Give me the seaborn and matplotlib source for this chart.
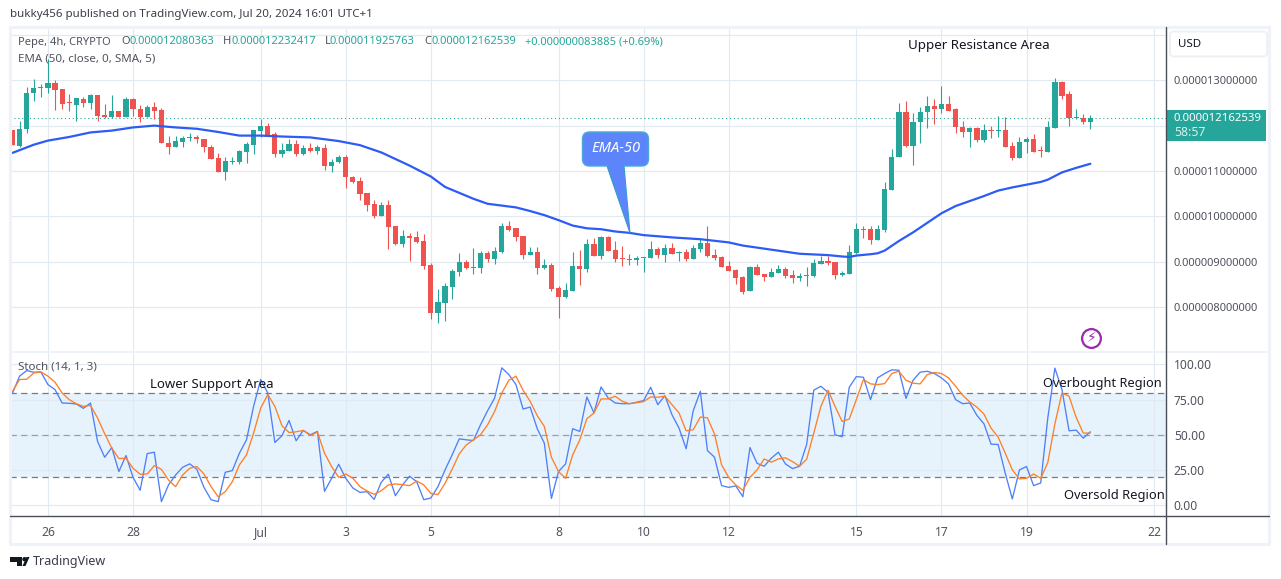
import numpy as np
import pandas as pd
import seaborn as sns
import matplotlib
matplotlib.use("Agg")
import matplotlib.pyplot as plt
from matplotlib.patches import Rectangle, FancyBboxPatch, Polygon, Circle
from matplotlib.ticker import FuncFormatter, FixedLocator

# Prices are in millionths of a USD
opens = [11.91,11.55,11.92,12.71,12.82,12.82,12.93,12.80,12.50,12.46,12.59,12.50,12.67,12.24,12.18,12.32,12.19,12.59,12.37,12.19,
 12.41,12.34,11.62,11.54,11.65,11.73,11.76,11.70,11.54,11.29,10.99,11.21,11.21,11.43,11.58,11.89,11.99,11.82,11.38,11.45,
 11.60,11.38,11.51,11.45,11.51,11.12,11.19,11.32,10.88,10.79,10.51,10.27,10.01,10.25,9.79,9.39,9.58,9.54,9.45,8.93,
 7.88,8.09,8.44,8.77,8.99,8.87,8.86,9.19,9.06,9.21,9.78,9.74,9.56,9.15,9.21,8.86,8.93,8.42,8.23,8.36,
 8.90,8.84,9.39,9.12,9.54,9.26,9.08,9.06,9.04,9.09,9.08,9.28,9.15,9.30,9.20,9.21,9.06,9.28,9.41,9.15,
 9.10,8.90,8.82,8.66,8.36,8.88,8.73,8.66,8.75,8.84,8.71,8.64,8.69,8.69,8.95,9.01,9.00,8.71,8.73,9.19,
 9.72,9.72,9.48,9.70,10.58,11.30,12.29,11.56,12.07,12.29,12.44,12.36,12.47,12.36,11.98,11.87,11.94,11.68,11.90,11.89,
 11.90,11.56,11.28,11.63,11.70,11.46,11.43,11.94,12.97,12.69,12.16,12.17,12.08]
highs = [11.91,12.11,12.85,13.03,12.91,13.46,13.00,12.80,12.70,12.61,12.62,12.70,12.67,12.48,12.67,12.33,12.62,12.60,12.45,12.45,
 12.52,12.38,11.78,11.78,11.78,11.84,11.79,11.70,11.57,11.40,11.31,11.32,11.47,11.63,11.91,12.15,12.05,11.85,11.62,11.70,
 11.69,11.57,11.62,11.57,11.60,11.27,11.36,11.35,10.90,10.86,10.51,10.36,10.31,10.36,9.79,9.71,9.63,9.67,9.61,8.98,
 8.40,8.53,8.85,9.19,9.04,9.30,9.23,9.24,9.32,9.85,9.91,9.74,9.56,9.32,9.32,9.06,8.97,8.47,8.53,9.21,
 9.26,9.50,9.52,9.58,9.56,9.45,9.34,9.17,9.13,9.10,9.45,9.32,9.39,9.41,9.23,9.28,9.37,9.50,9.78,9.28,
 9.12,9.01,8.84,8.69,8.90,8.95,8.73,8.86,8.93,8.88,8.82,8.75,8.88,9.06,9.14,9.14,9.00,8.80,9.37,9.85,
 9.79,9.79,9.81,10.75,11.48,12.49,12.55,12.27,12.40,12.66,12.58,12.88,12.66,12.38,12.11,11.98,11.98,12.03,12.00,12.22,
 12.20,11.63,11.76,11.74,11.81,11.56,12.11,13.04,12.99,12.77,12.36,12.25,12.23]
lows = [11.57,11.54,11.83,12.55,12.62,12.71,12.35,12.36,12.33,12.11,12.42,12.37,12.11,12.17,12.17,12.18,12.19,12.22,12.09,12.18,
 12.14,11.61,11.38,11.54,11.54,11.67,11.61,11.41,11.26,10.99,10.81,11.15,11.15,11.18,11.37,11.75,11.79,11.32,11.30,11.45,
 11.34,11.35,11.43,11.38,11.03,10.97,11.18,10.62,10.74,10.36,10.12,9.96,10.01,9.29,9.38,9.33,9.01,9.42,8.84,7.74,
 7.66,7.70,8.18,8.69,8.84,8.73,8.75,8.99,8.95,9.19,9.69,9.45,9.07,9.15,8.73,8.84,8.36,7.77,8.21,8.36,
 8.49,8.77,9.12,9.06,9.23,8.99,8.90,8.93,8.93,8.77,9.08,9.08,8.99,9.17,9.01,9.01,9.06,9.21,9.10,9.04,
 8.88,8.79,8.51,8.29,8.36,8.71,8.58,8.66,8.75,8.65,8.53,8.58,8.47,8.66,8.95,8.93,8.62,8.69,8.73,9.17,
 9.52,9.39,9.48,9.65,10.58,11.30,11.52,11.13,11.61,11.94,12.03,12.27,12.33,11.83,11.74,11.54,11.65,11.65,11.72,11.76,
 11.54,11.24,11.28,11.39,11.43,11.30,11.41,11.94,12.58,12.00,12.14,12.03,11.93]
closes = [11.57,11.93,12.72,12.83,12.83,12.93,12.79,12.48,12.49,12.60,12.50,12.67,12.22,12.18,12.33,12.19,12.59,12.36,12.19,12.42,
 12.33,11.61,11.54,11.67,11.73,11.74,11.70,11.52,11.27,10.99,11.22,11.22,11.45,11.60,11.91,11.99,11.80,11.38,11.47,11.60,
 11.38,11.51,11.45,11.52,11.12,11.21,11.31,10.86,10.77,10.49,10.25,10.01,10.25,9.77,9.40,9.58,9.52,9.43,8.90,7.88,
 8.12,8.47,8.79,8.99,8.86,8.88,9.19,9.06,9.23,9.78,9.71,9.54,9.15,9.21,8.86,8.93,8.40,8.23,8.38,8.90,
 8.84,9.39,9.12,9.54,9.23,9.06,9.07,9.04,9.08,9.10,9.28,9.15,9.30,9.17,9.22,9.06,9.30,9.41,9.12,9.08,
 8.88,8.79,8.64,8.34,8.88,8.71,8.66,8.77,8.84,8.69,8.64,8.69,8.71,8.97,9.01,8.97,8.71,8.75,9.22,9.72,
 9.71,9.48,9.72,10.60,11.32,12.29,11.56,12.09,12.31,12.44,12.36,12.47,12.33,11.96,11.87,11.94,11.68,11.90,11.89,11.90,
 11.54,11.28,11.65,11.70,11.43,11.45,11.96,12.97,12.66,12.16,12.18,12.07,12.16]

ema_bars = [1,4,6,9,12,15,18,21,24,27,30,33,36,39,43,47,50,53,57,60,62,64,66,68,70,72,74,76,78,80,82,84,86,88,90,94,98,102,104,108,112,116,118,119,120,122,123,124,126,128,130,132,134,136,138,140,142,144,146,147,149,151,153]
ema_vals = [11.40,11.58,11.67,11.75,11.85,11.89,11.96,12.00,11.96,11.93,11.86,11.78,11.78,11.76,11.74,11.66,11.57,11.41,11.12,10.88,10.65,10.52,10.39,10.28,10.24,10.20,10.12,10.03,9.92,9.80,9.74,9.72,9.67,9.64,9.59,9.54,9.50,9.43,9.36,9.27,9.18,9.15,9.12,9.11,9.14,9.17,9.19,9.25,9.46,9.65,9.86,10.07,10.23,10.34,10.45,10.57,10.64,10.70,10.76,10.81,10.97,11.07,11.16]

stoch_k = [79.7,91.7,95.7,94.5,94.7,85.7,82.1,72.6,72.4,71.9,68.8,72.6,45.2,34.0,40.9,23.8,35.2,19.7,10.5,36.6,
 37.6,2.4,14.3,21.4,26.9,29.3,25.4,12.6,3.8,2.4,23.3,24.5,36.9,46.4,70.2,89.3,79.7,44.5,49.3,60.2,
 45.7,53.1,50.0,52.4,9.7,19.0,29.0,19.0,12.1,9.0,9.5,4.0,16.2,21.9,6.6,14.3,20.5,16.6,3.8,5.0,
 13.1,25.0,35.7,47.1,46.4,45.9,57.1,67.1,76.2,97.6,92.8,85.7,68.3,69.7,54.3,44.0,4.7,23.8,29.3,54.3,
 52.4,76.9,65.5,84.0,76.2,72.6,72.1,72.1,73.1,74.3,83.8,71.4,77.8,64.3,54.7,40.0,67.1,80.9,38.8,34.0,
 13.8,12.6,13.6,5.9,40.9,29.7,27.6,33.3,37.6,29.3,25.9,27.6,43.3,81.7,84.5,80.2,50.0,48.6,83.8,91.4,
 90.9,75.0,90.5,93.6,96.2,95.9,75.9,88.8,94.5,95.2,93.6,90.5,86.2,75.0,72.1,72.6,63.8,57.8,43.3,43.1,
 22.6,4.3,25.0,27.4,13.8,15.7,61.9,97.4,82.1,52.8,53.3,47.6,52.1]
stoch_d = [80.9,89.3,89.5,94.0,94.7,91.7,87.4,79.7,75.0,72.1,70.2,70.9,61.9,50.7,40.5,33.1,33.3,26.2,21.9,22.1,
 28.1,25.4,17.8,13.1,21.4,26.2,27.4,22.1,13.1,5.9,9.5,16.6,28.6,35.7,51.2,69.0,78.6,70.2,56.4,51.6,
 52.1,53.1,49.5,51.9,36.9,27.4,19.7,22.1,19.0,13.1,10.0,7.6,10.2,14.3,15.0,14.5,13.8,17.1,14.3,8.3,
 7.4,15.5,25.5,36.4,42.8,46.4,50.0,57.1,66.7,79.7,88.8,91.7,81.7,73.8,63.6,55.9,34.0,23.8,19.0,35.7,
 46.4,61.4,65.5,75.5,75.5,77.4,73.8,72.1,72.8,73.6,76.9,76.7,77.4,71.4,65.5,52.8,53.6,62.6,62.1,50.5,
 28.6,19.7,14.3,10.5,19.7,25.0,32.8,30.5,32.8,33.6,30.9,27.6,32.6,51.2,70.2,81.7,70.2,59.5,61.2,75.0,
 89.3,86.2,85.7,86.4,93.6,95.2,88.8,86.7,86.2,92.8,94.3,93.6,90.5,84.5,78.1,73.3,69.7,64.7,54.7,48.3,
 36.9,25.0,18.6,19.0,22.1,19.0,30.2,57.8,79.7,77.4,62.4,51.2,51.2]

date_ticks = [6,18,36,48,60,78,90,102,120,132,144,162]
date_labels = ["26","28","Jul","3","5","8","10","12","15","17","19","22"]
price_ticks = [8,9,10,11,13]
price_grid_only = [12,14]
stoch_ticks = [0,25,50,75,100]
last_price = 12.162539

UP, DOWN = "#26a69a", "#ef5350"
GRID = "#e1e9f1"
TXT = "#50535e"
DARK = "#131722"
BLUE = "#2d5bf6"
FONT = ["Noto Sans", "DejaVu Sans"]

sns.set_theme(style="white")
plt.rcParams["font.family"] = FONT
W, H = 1281, 579
fig = plt.figure(figsize=(W/100, H/100), dpi=100, facecolor="white")

def axes_px(x0, y0, x1, y1, **kw):
    return fig.add_axes([x0/W, 1-y1/H, (x1-x0)/W, (y1-y0)/H], **kw)

XL = (0.647, 163.6)
bars = np.arange(1, len(closes)+1)
o, h, l, c = map(np.array, (opens, highs, lows, closes))
is_up = c >= o
cols = np.where(is_up, UP, DOWN)

ax = axes_px(10, 27, 1165.5, 351)
ax.set_xlim(*XL)
ax.set_ylim(7.04, 14.17)
ax.set_xticks(date_ticks)
ax.set_axisbelow(True)
ax.vlines(bars, l, h, colors=cols, lw=0.8, zorder=2)
body_low = np.minimum(o, c)
body_h = np.maximum(np.abs(c-o), 0.022)
ax.bar(bars, body_h, bottom=body_low, width=0.74, color=cols, lw=0, zorder=3)
ax.axhline(last_price, color=UP, lw=0.8, ls=(0, (1, 2.5)), zorder=1)
sns.lineplot(x=ema_bars, y=ema_vals, ax=ax, color=BLUE, lw=1.6, zorder=4, legend=False, estimator=None)
ax.set_xlim(*XL)
ax.set_ylim(7.04, 14.17)
ax.yaxis.tick_right()
ax.yaxis.set_major_locator(FixedLocator(price_ticks))
ax.yaxis.set_minor_locator(FixedLocator(price_grid_only))
ax.grid(True, which="both", color=GRID, lw=0.8)
ax.yaxis.set_major_formatter(FuncFormatter(lambda v, _: f"{v*1e-6:.12f}"))
ax.tick_params(axis="y", which="both", length=0, pad=6, labelsize=8, labelcolor=TXT)
ax.tick_params(axis="x", length=0, labelbottom=False)
ax.set_xlabel(""); ax.set_ylabel("")
for s in ax.spines.values():
    s.set_visible(False)

sx = axes_px(10, 351, 1165.5, 516)
sx.set_xlim(*XL)
sx.set_ylim(-7.8, 109.6)
sx.set_yticks(stoch_ticks)
sx.set_yticklabels([f"{v:.2f}" for v in stoch_ticks])
sx.set_xticks(date_ticks)
sx.set_xticklabels(date_labels)
sx.grid(True, color=GRID, lw=0.8)
sx.set_axisbelow(True)
sx.axhspan(20, 80, color="#2196f3", alpha=0.11, lw=0, zorder=0.5)
for lev, col in ((80, "#787b86"), (50, "#9a9da6"), (20, "#787b86")):
    sx.axhline(lev, color=col, lw=0.9, ls=(0, (5, 3.5)), zorder=1)
sns.lineplot(x=bars, y=stoch_k, ax=sx, color="#4f80f6", lw=0.95, zorder=3, legend=False, estimator=None)
sns.lineplot(x=bars, y=stoch_d, ax=sx, color="#ff7f27", lw=0.95, zorder=4, legend=False, estimator=None)
sx.set_xlim(*XL)
sx.set_ylim(-7.8, 109.6)
sx.yaxis.tick_right()
sx.tick_params(axis="y", length=0, pad=6, labelsize=8.7, labelcolor=TXT)
sx.tick_params(axis="x", length=0, pad=7, labelsize=8.7, labelcolor=TXT)
sx.set_xlabel(""); sx.set_ylabel("")
for s in sx.spines.values():
    s.set_visible(False)

ov = fig.add_axes([0, 0, 1, 1], zorder=10)
ov.set_xlim(0, W); ov.set_ylim(H, 0); ov.axis("off"); ov.patch.set_alpha(0)

# frame
FR = "#eff2f8"
ov.add_patch(Rectangle((10, 27), 1259, 517, fill=False, ec=FR, lw=2.2))
ov.plot([10, 1269], [351.5, 351.5], color=FR, lw=1.4)
ov.plot([10, 1269], [516.3, 516.3], color="#4a4e59", lw=1.0)
ov.plot([1165.5, 1165.5], [27, 544], color="#4a4e59", lw=1.0)

# USD button
ov.add_patch(FancyBboxPatch((1170, 31.5), 97, 25, boxstyle="round,pad=0,rounding_size=4", fc="white", ec="#eef0f6", lw=1.4))
ov.text(1178, 44.5, "USD", color=DARK, fontsize=8.3, va="center")

# last price label
ov.add_patch(Rectangle((1165.5, 110), 100.5, 31, fc=UP, ec="none"))
ov.text(1174, 118.5, f"{last_price*1e-6:.12f}", color="white", fontsize=8.2, fontweight="bold", va="center")
ov.text(1174, 132.5, "58:57", color="#d6f0ed", fontsize=8.8, va="center")

# header texts
ov.text(10, 14.5, "bukky456 published on TradingView.com, Jul 20, 2024 16:01 UTC+1", color="#3b3f4a", fontsize=8.3, va="center")
hdr = [(18, "Pepe, 4h, CRYPTO", TXT), (121, "O", TXT), (130, "0.000012080363", UP), (223, "H", TXT), (231, "0.000012232417", UP),
       (325, "L", TXT), (330, "0.000011925763", UP), (424, "C", TXT), (431, "0.000012162539", UP), (525, "+0.000000083885 (+0.69%)", UP)]
for x, t, col in hdr:
    ov.text(x, 42, t, color=col, fontsize=8.0, va="center")
ov.text(18, 59, "EMA (50, close, 0, SMA, 5)", color=TXT, fontsize=8.3, va="center")
ov.text(18, 367, "Stoch (14, 1, 3)", color=TXT, fontsize=8.3, va="center")

# chart annotations
ann = [(978.5, 46, "Upper Resistance Area", 9.6), (212, 384.5, "Lower Support Area", 9.5), (1102, 383.5, "Overbought Region", 9.2), (1114, 495.5, "Oversold Region", 9.3)]
for x, y, t, fs in ann:
    ov.text(x, y, t, color=DARK, fontsize=fs, ha="center", va="center")

# callout
CO = "#5c85fb"
ov.add_patch(Polygon([(607, 166), (624, 166), (630, 233)], closed=True, fc=CO, ec="#2f9fc0", lw=0.8, zorder=3))
ov.add_patch(FancyBboxPatch((582.5, 132), 66, 34, boxstyle="round,pad=0,rounding_size=7", fc=CO, ec="#4aa8d8", lw=1.0, zorder=4))
ov.add_patch(Polygon([(608, 165), (623.5, 165), (629.5, 231)], closed=True, fc=CO, ec="none", zorder=5))
ov.text(615.5, 148.5, "EMA-50", color="white", fontsize=10.6, fontweight="bold", fontstyle="italic", ha="center", va="center", zorder=6)

# bolt badge
ov.add_patch(Circle((1091.5, 338.5), 9.4, fc="white", ec="#9c27b0", lw=1.6))
ov.text(1091.5, 338.5, "\u26a1", color="#9c27b0", fontsize=10, ha="center", va="center", family="DejaVu Sans")

# TradingView logo
ov.add_patch(Polygon([(10, 557), (22, 557), (22, 566), (17, 566), (17, 561.5), (10, 561.5)], closed=True, fc=DARK, ec="none"))
ov.add_patch(Circle((24.5, 559.2), 2.2, fc=DARK, ec="none"))
ov.add_patch(Polygon([(22.5, 566), (26.5, 557), (29.5, 557), (25.5, 566)], closed=True, fc=DARK, ec="none"))
ov.text(33, 561.5, "TradingView", color="#3a3e4a", fontsize=9.0, va="center")

fig.savefig("out.png", dpi=100, facecolor="white")
